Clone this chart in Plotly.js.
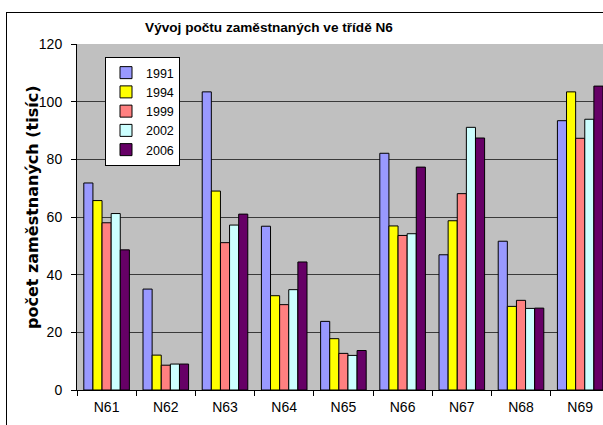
<!DOCTYPE html>
<html>
<head>
<meta charset="utf-8">
<script src="https://cdn.plot.ly/plotly-3.0.1.min.js"></script>
<style>
html,body{margin:0;padding:0;background:#fff;}
#wrap{position:relative;width:603px;height:425px;overflow:hidden;}
#chart{width:603px;height:425px;}
#frame{position:absolute;left:6px;top:12px;width:700px;height:500px;border-left:1px solid #000;border-top:1px solid #000;pointer-events:none;}
</style>
</head>
<body>
<div id="wrap"><div id="chart"></div><div id="frame"></div></div>
<script>
const categories = ["N61","N62","N63","N64","N65","N66","N67","N68","N69"];
const years = ["1991","1994","1999","2002","2006"];
const v1991 = [71.8, 35.0, 103.4, 56.8, 23.8, 82.1, 46.9, 51.6, 93.4];
const v1994 = [65.7, 12.1, 69.0, 32.7, 17.8, 56.9, 58.7, 29.0, 103.4];
const v1999 = [58.0, 8.6, 51.1, 29.6, 12.7, 53.6, 68.1, 31.1, 87.3];
const v2002 = [61.2, 9.0, 57.2, 34.8, 12.0, 54.2, 91.1, 28.3, 93.9];
const v2006 = [48.6, 9.0, 61.0, 44.4, 13.7, 77.3, 87.4, 28.4, 105.4];
const yTicks = [0, 20, 40, 60, 80, 100, 120];
const titleText = "Vývoj počtu zaměstnaných ve třídě N6";
const yTitleText = "počet zaměstnaných (tisíc)";

const series = [v1991, v1994, v1999, v2002, v2006];
const colors = ["#9999FF", "#FFFF00", "#FF8080", "#CCFFFF", "#660066"];

const traces = series.map((vals, i) => ({
  type: "bar",
  name: years[i],
  x: categories,
  y: vals,
  marker: {color: colors[i], line: {color: "#000000", width: 1}},
  hoverinfo: "x+y+name"
}));

const layout = {
  width: 603,
  height: 425,
  margin: {l: 77, r: 0, t: 44, b: 35, pad: 0},
  paper_bgcolor: "#FFFFFF",
  plot_bgcolor: "#C0C0C0",
  font: {family: "Liberation Sans, Arial, sans-serif", size: 14, color: "#000"},
  barmode: "group",
  bargap: 0.23,
  bargroupgap: 0,
  title: {
    text: titleText,
    font: {family: "Liberation Sans, Arial, sans-serif", size: 13.6, weight: "bold", color: "#000"},
    xref: "container", x: 269/603, xanchor: "center",
    yref: "container", y: 1 - 27/425, yanchor: "middle"
  },
  xaxis: {
    type: "category",
    range: [-0.5, 8.385],
    showline: true, linecolor: "#000", linewidth: 1,
    ticks: "outside", ticklen: 5, tickcolor: "#000", tickson: "boundaries",
    ticklabelstandoff: 4,
    showgrid: false, zeroline: false,
    tickfont: {size: 14}
  },
  yaxis: {
    range: [0, 120],
    tickvals: yTicks,
    ticktext: yTicks.map(String),
    showline: true, linecolor: "#000", linewidth: 1,
    ticks: "outside", ticklen: 5, tickcolor: "#000",
    ticklabelstandoff: 6,
    showgrid: true, gridcolor: "#3a3a3a", gridwidth: 1,
    zeroline: false,
    tickfont: {size: 14}
  },
  annotations: [{
    text: yTitleText,
    textangle: -90,
    xref: "paper", yref: "paper",
    x: (32-77)/526, y: (390-207)/346,
    xanchor: "center", yanchor: "middle",
    showarrow: false,
    font: {family: "DejaVu Sans, sans-serif", size: 16, weight: "bold", color: "#000"}
  }],
  legend: {
    x: (105-77)/526, xanchor: "left",
    y: (390-57)/346, yanchor: "top",
    bgcolor: "#FFFFFF", bordercolor: "#000", borderwidth: 1,
    font: {size: 12.5},
    traceorder: "normal"
  },
  showlegend: true
};

Plotly.newPlot("chart", traces, layout, {displayModeBar: false, staticPlot: true});
</script>
</body>
</html>
